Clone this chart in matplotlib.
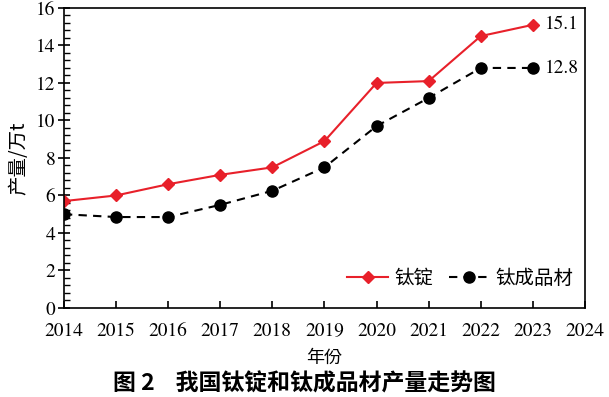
import matplotlib
matplotlib.use("Agg")
import matplotlib.pyplot as plt
from matplotlib.ticker import MultipleLocator

years = [2014, 2015, 2016, 2017, 2018, 2019, 2020, 2021, 2022, 2023]
ingot = [5.7, 6.0, 6.6, 7.1, 7.5, 8.9, 12.0, 12.1, 14.5, 15.1]
products = [5.0, 4.85, 4.85, 5.5, 6.25, 7.5, 9.7, 11.2, 12.8, 12.8]
xticks = list(range(2014, 2025))
yticks = list(range(0, 17, 2))

serif = ['TeX Gyre Termes', 'Liberation Serif', 'DejaVu Serif']
cjk = ['Noto Sans CJK JP', 'Noto Sans CJK SC', 'DejaVu Sans']
plt.rcParams['font.family'] = serif

fig = plt.figure(figsize=(6.09, 3.97), dpi=100)
ax = fig.add_axes([0.105, 0.2242, 0.8556, 0.7558])

ax.plot(years, ingot, color='#e8202a', lw=1.5, marker='D', ms=6, label='钛锭')
ax.plot(years, products, color='black', lw=1.5, ls=(0, (4, 3)), marker='o', ms=8, label='钛成品材')

ax.text(years[-1] + 0.22, ingot[-1], '%.1f' % ingot[-1], fontsize=14, va='center', ha='left', family=serif)
ax.text(years[-1] + 0.22, products[-1], '%.1f' % products[-1], fontsize=14, va='center', ha='left', family=serif)

ax.set_xlim(2014, 2024)
ax.set_ylim(0, 16)
ax.set_xticks(xticks)
ax.set_yticks(yticks)
ax.yaxis.set_minor_locator(MultipleLocator(0.4))
ax.tick_params(axis='x', direction='in', length=5, width=1.2, labelsize=14, pad=11)
ax.tick_params(axis='y', which='major', direction='inout', length=8, width=1.2, labelsize=14, pad=2)
ax.tick_params(axis='y', which='minor', direction='in', length=4, width=1.0)
for lab in ax.get_xticklabels() + ax.get_yticklabels():
    lab.set_fontfamily(serif)
for s in ax.spines.values():
    s.set_linewidth(1.2)

ax.set_ylabel('产量/万t', fontsize=14, family=cjk, labelpad=5)
ax.set_xlabel('年份', fontsize=13, family=cjk, labelpad=6)

ax.legend(loc='lower right', ncol=2, frameon=False, prop={'family': cjk, 'size': 14},
          handlelength=2.1, columnspacing=0.8, handletextpad=0.3,
          borderaxespad=0.2, bbox_to_anchor=(1.0, 0.025))

fig.text(0.5, 0.032, '图 2    我国钛锭和钛成品材产量走势图', ha='center', va='center',
         fontsize=16.5, fontweight='bold', family=cjk)

fig.savefig('out.png', dpi=100)
